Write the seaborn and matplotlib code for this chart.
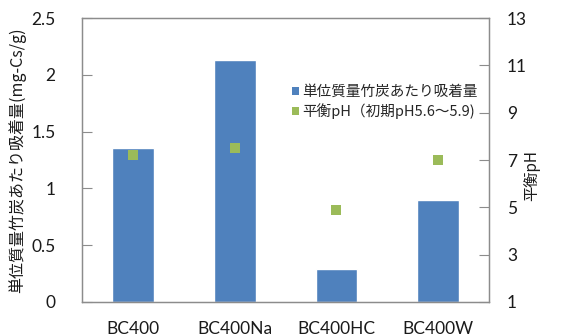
import matplotlib
matplotlib.use("Agg")
import matplotlib.pyplot as plt
from matplotlib.patches import Patch
import seaborn as sns
import pandas as pd

# Adsorption data for each bamboo charcoal sample
samples = ["BC400", "BC400Na", "BC400HC", "BC400W"]
adsorption = [1.36, 2.13, 0.29, 0.90]   # mg-Cs/g
equilibrium_ph = [7.2, 7.5, 4.9, 7.0]

left_ticks = [0, 0.5, 1, 1.5, 2, 2.5]
left_tick_labels = ["0", "0.5", "1", "1.5", "2", "2.5"]
right_ticks = [1, 3, 5, 7, 9, 11, 13]

bar_label = "単位質量竹炭あたり吸着量"
ph_label = "平衡pH（初期pH5.6～5.9)"
left_ylabel = "単位質量竹炭あたり吸着量(mg-Cs/g)"
right_ylabel = "平衡pH"

BAR_COLOR = "#4F81BD"
PT_COLOR = "#9BBB59"
AXIS_COLOR = "#8C8C8C"
TEXT_COLOR = "#1a1a1a"

sns.set_theme(style="white")
plt.rcParams["font.family"] = ["Lato", "Noto Sans CJK JP", "DejaVu Sans"]

df = pd.DataFrame({"sample": samples, "adsorption": adsorption, "ph": equilibrium_ph})

fig = plt.figure(figsize=(5.61, 3.36), dpi=100)
ax = fig.add_axes([0.1462, 0.1012, 0.7255, 0.8452])

sns.barplot(data=df, x="sample", y="adsorption", color=BAR_COLOR, width=0.41,
            saturation=1, ax=ax)
ax.set_xlim(-0.5, 3.5)
ax.set_ylim(0, 2.5)
ax.set_yticks(left_ticks)
ax.set_yticklabels(left_tick_labels)
ax.set_xlabel("")
ax.set_ylabel(left_ylabel, fontsize=11.5, color=TEXT_COLOR, labelpad=4,
              family=["Noto Sans CJK JP", "DejaVu Sans"])
ax.tick_params(axis="y", direction="in", length=7, width=0.8, color=AXIS_COLOR,
               labelsize=12.5, labelcolor=TEXT_COLOR, pad=19)
ax.tick_params(axis="x", length=0, labelsize=12.5, labelcolor=TEXT_COLOR, pad=14)

ax2 = ax.twinx()
sns.scatterplot(data=df, x="sample", y="ph", marker="s", s=50, color=PT_COLOR,
                edgecolor="none", linewidth=0, ax=ax2, zorder=5)
ax2.set_ylim(1, 13)
ax2.set_yticks(right_ticks)
ax2.set_ylabel(right_ylabel, fontsize=11, color=TEXT_COLOR, rotation=90,
               family=["Noto Sans CJK JP", "DejaVu Sans"], va="center", ha="center")
ax2.yaxis.set_label_coords(1.106, 0.447)
ax2.tick_params(axis="y", direction="in", length=7, width=0.8, color=AXIS_COLOR,
                labelsize=12.5, labelcolor=TEXT_COLOR, pad=13)

for a in (ax, ax2):
    for sp in a.spines.values():
        sp.set_visible(True)
        sp.set_color(AXIS_COLOR)
        sp.set_linewidth(0.9)

handles = [Patch(facecolor=BAR_COLOR, edgecolor="none"),
           Patch(facecolor=PT_COLOR, edgecolor="none")]
leg = ax2.legend(handles, [bar_label, ph_label], loc="upper left",
                 bbox_to_anchor=(0.497, 0.79), frameon=False,
                 handlelength=0.5, handleheight=0.5, handletextpad=0.2,
                 labelspacing=0.3, borderpad=0,
                 prop={"family": ["Noto Sans CJK JP", "DejaVu Sans"], "size": 10.5})

fig.savefig("out.png", dpi=100)
